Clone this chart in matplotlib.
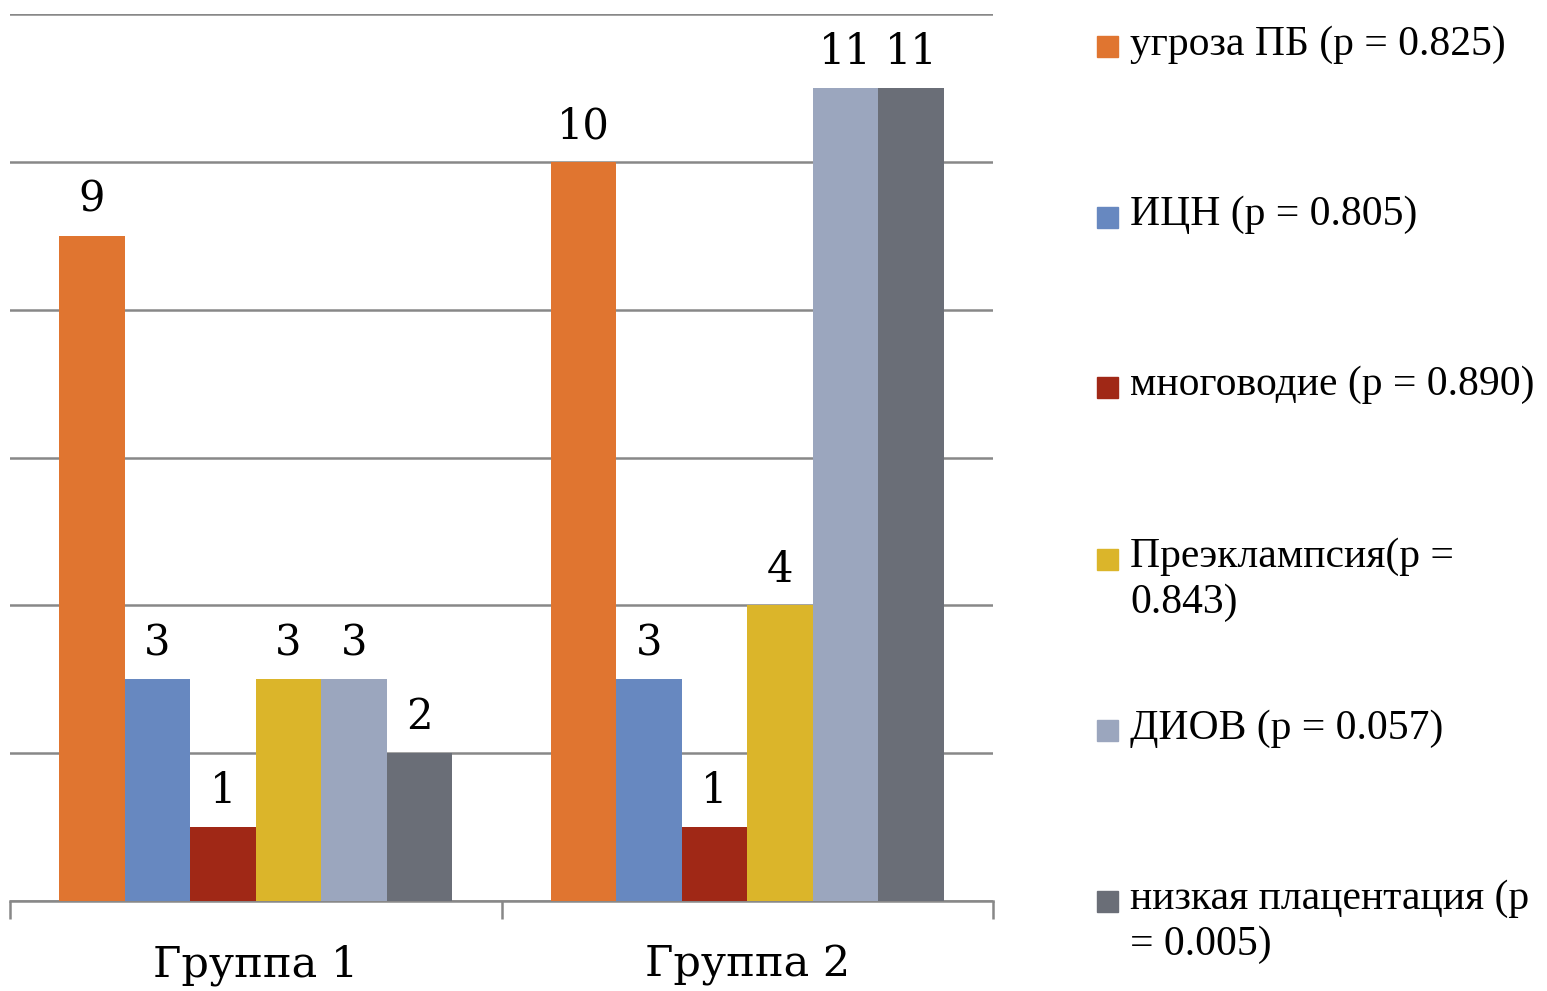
import matplotlib.pyplot as plt
import numpy as np
from matplotlib.patches import Rectangle

groups = ["Группа 1", "Группа 2"]
series = [
    "угроза ПБ (p = 0.825)",
    "ИЦН (p = 0.805)",
    "многоводие (p = 0.890)",
    "Преэклампсия(p =\n0.843)",
    "ДИОВ (p = 0.057)",
    "низкая плацентация (p\n= 0.005)",
]
values = [
    [9, 10],
    [3, 3],
    [1, 1],
    [3, 4],
    [3, 11],
    [2, 11],
]
colors = ["#E07530", "#6788C0", "#A02816", "#DBB52A", "#9BA6BE", "#6A6E77"]

W, H = 1547, 991
fig = plt.figure(figsize=(W / 100, H / 100), dpi=100)
ax = fig.add_axes([10 / W, 90 / H, 983 / W, 887 / H])

x = np.arange(len(groups))
n = len(series)
width = 0.8 / n
for i, (vals, c) in enumerate(zip(values, colors)):
    pos = x - 0.4 + width * (i + 0.5)
    bars = ax.bar(pos, vals, width, color=c, zorder=3)
    for b, v in zip(bars, vals):
        ax.text(b.get_x() + b.get_width() / 2, v + 0.2, str(v),
                ha="center", va="bottom", fontsize=30, family="DejaVu Serif")

ax.set_xlim(-0.5, 1.5)
ax.set_ylim(0, 12)
ax.set_yticks(np.arange(0, 13, 2))
ax.yaxis.grid(True, color="#888888", linewidth=1.8, zorder=0)
ax.tick_params(axis="y", left=False, labelleft=False)
for s in ["left", "right", "top"]:
    ax.spines[s].set_visible(False)
ax.spines["bottom"].set_color("#888888")
ax.spines["bottom"].set_linewidth(1.8)

# category ticks sit on the boundaries between groups
ax.set_xticks([-0.5, 0.5, 1.5])
ax.set_xticklabels([])
ax.set_xticks(x, minor=True)
ax.set_xticklabels(groups, minor=True, fontsize=31, family="DejaVu Serif")
ax.tick_params(axis="x", which="major", length=13, width=1.8, color="#888888")
ax.tick_params(axis="x", which="minor", length=0, pad=31)

# legend drawn by hand to keep the wide spacing between entries
ys = [47, 218, 388, 560, 731, 902]
for label, c, y in zip(series, colors, ys):
    fig.patches.append(Rectangle((1097 / W, 1 - (y + 10) / H), 21 / W, 21 / H,
                                 transform=fig.transFigure, color=c))
    fig.text(1130 / W, 1 - (y - 22) / H, label, ha="left", va="top",
             fontsize=30, family="Liberation Serif", linespacing=1.25)

fig.savefig("out.png", dpi=100)
